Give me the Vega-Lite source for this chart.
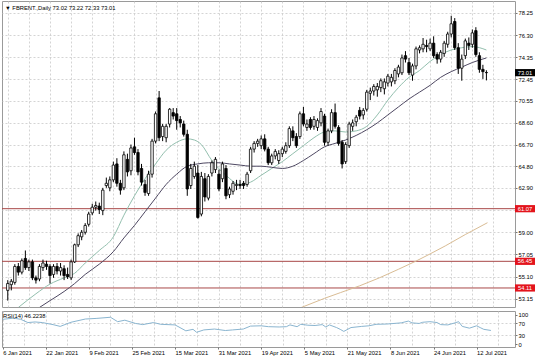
{
  "$schema": "https://vega.github.io/schema/vega-lite/v6.json",
  "padding": 0,
  "spacing": 2,
  "config": {
    "view": {"stroke": "#9a9a9a", "strokeWidth": 1},
    "axis": {"labelFont": "Liberation Sans", "labelFontSize": 5.8, "labelColor": "#000", "gridColor": "#c9c9c9", "gridDash": [2, 2], "gridWidth": 0.8, "tickColor": "#777", "domain": false, "title": null, "labelOverlap": false, "labelSeparation": 0},
    "axisY": {"labelOverlap": false},
    "axisRight": {"labelOverlap": false},
    "title": {"font": "Liberation Sans", "fontSize": 5.8, "fontWeight": "normal", "color": "#000", "anchor": "start", "frame": "group", "orient": "top"},
    "text": {"font": "Liberation Sans"}
  },
  "datasets": {
    "candles": [
      {"i":0,"o":53.9,"h":54.8,"l":53.0,"c":54.5},{"i":1,"o":54.4,"h":54.9,"l":53.9,"c":54.7},{"i":2,"o":54.6,"h":56.2,"l":54.4,"c":56.0},{"i":3,"o":56.0,"h":56.3,"l":55.2,"c":55.5},{"i":4,"o":55.5,"h":56.7,"l":55.3,"c":56.5},{"i":5,"o":56.7,"h":57.4,"l":55.7,"c":55.9},{"i":6,"o":55.9,"h":56.6,"l":55.6,"c":56.4},{"i":7,"o":56.4,"h":56.6,"l":54.8,"c":55.0},{"i":8,"o":55.0,"h":55.2,"l":54.5,"c":54.8},{"i":9,"o":54.9,"h":56.2,"l":54.7,"c":56.0},
      {"i":10,"o":55.9,"h":56.6,"l":55.6,"c":56.3},{"i":11,"o":56.2,"h":56.5,"l":55.7,"c":56.0},{"i":12,"o":56.0,"h":56.2,"l":54.5,"c":55.2},{"i":13,"o":55.3,"h":56.2,"l":55.0,"c":56.0},{"i":14,"o":56.0,"h":56.3,"l":55.3,"c":55.6},{"i":15,"o":55.6,"h":56.3,"l":55.2,"c":55.9},{"i":16,"o":55.8,"h":56.1,"l":54.8,"c":55.2},{"i":17,"o":55.3,"h":55.9,"l":54.9,"c":55.1},{"i":18,"o":55.0,"h":56.6,"l":54.8,"c":56.4},{"i":19,"o":56.4,"h":58.0,"l":56.3,"c":57.9},
      {"i":20,"o":57.9,"h":58.9,"l":57.7,"c":58.7},{"i":21,"o":58.6,"h":59.2,"l":58.3,"c":59.0},{"i":22,"o":59.0,"h":59.8,"l":58.8,"c":59.6},{"i":23,"o":59.7,"h":60.8,"l":59.5,"c":60.6},{"i":24,"o":60.7,"h":61.5,"l":60.5,"c":61.2},{"i":25,"o":61.2,"h":61.7,"l":60.9,"c":61.35},{"i":26,"o":61.3,"h":61.6,"l":60.6,"c":61.0},{"i":27,"o":60.9,"h":62.9,"l":60.5,"c":62.7},{"i":28,"o":63.1,"h":63.8,"l":62.9,"c":63.3},{"i":29,"o":62.9,"h":63.9,"l":62.6,"c":63.6},
      {"i":30,"o":63.6,"h":65.2,"l":63.4,"c":64.9},{"i":31,"o":65.0,"h":65.5,"l":63.0,"c":63.3},{"i":32,"o":63.3,"h":63.6,"l":62.3,"c":62.7},{"i":33,"o":62.9,"h":66.1,"l":62.7,"c":65.8},{"i":34,"o":65.4,"h":65.9,"l":63.9,"c":64.3},{"i":35,"o":64.4,"h":66.7,"l":64.0,"c":66.4},{"i":36,"o":66.5,"h":67.3,"l":65.8,"c":66.0},{"i":37,"o":66.0,"h":66.3,"l":64.0,"c":64.3},{"i":38,"o":64.6,"h":65.0,"l":63.1,"c":63.4},{"i":39,"o":63.2,"h":63.6,"l":62.2,"c":62.5},
      {"i":40,"o":62.4,"h":64.4,"l":62.2,"c":64.1},{"i":41,"o":64.1,"h":67.2,"l":63.8,"c":67.0},{"i":42,"o":67.0,"h":69.6,"l":66.8,"c":69.4},{"i":43,"o":70.8,"h":71.4,"l":67.0,"c":67.3},{"i":44,"o":67.4,"h":68.5,"l":67.0,"c":68.3},{"i":45,"o":67.3,"h":68.5,"l":66.9,"c":68.3},{"i":46,"o":68.5,"h":69.9,"l":68.2,"c":69.8},{"i":47,"o":69.5,"h":69.9,"l":68.9,"c":69.2},{"i":48,"o":69.4,"h":69.9,"l":68.0,"c":68.8},{"i":49,"o":68.9,"h":69.2,"l":68.2,"c":68.6},
      {"i":50,"o":68.5,"h":68.8,"l":67.4,"c":67.6},{"i":51,"o":67.6,"h":68.0,"l":62.2,"c":62.8},{"i":52,"o":63.1,"h":65.0,"l":62.8,"c":64.6},{"i":53,"o":63.9,"h":65.2,"l":63.7,"c":64.8},{"i":54,"o":64.2,"h":64.9,"l":60.2,"c":60.3},{"i":55,"o":60.6,"h":64.3,"l":60.4,"c":63.9},{"i":56,"o":63.7,"h":64.2,"l":61.7,"c":62.1},{"i":57,"o":62.0,"h":64.1,"l":61.8,"c":63.9},{"i":58,"o":64.2,"h":65.3,"l":63.9,"c":65.1},{"i":59,"o":64.5,"h":65.6,"l":64.2,"c":65.4},
      {"i":60,"o":64.1,"h":64.5,"l":62.6,"c":62.8},{"i":61,"o":63.7,"h":65.2,"l":63.4,"c":65.0},{"i":62,"o":64.6,"h":64.9,"l":61.9,"c":62.2},{"i":63,"o":62.3,"h":63.0,"l":62.0,"c":62.8},{"i":64,"o":62.6,"h":63.5,"l":62.3,"c":63.3},{"i":65,"o":63.1,"h":63.6,"l":62.7,"c":63.2},{"i":66,"o":63.2,"h":63.6,"l":62.8,"c":63.1},{"i":67,"o":63.3,"h":63.5,"l":62.8,"c":63.1},{"i":68,"o":63.2,"h":64.3,"l":63.0,"c":64.1},{"i":69,"o":64.4,"h":66.5,"l":64.2,"c":66.3},
      {"i":70,"o":66.3,"h":67.0,"l":66.0,"c":66.8},{"i":71,"o":66.8,"h":67.2,"l":66.5,"c":67.0},{"i":72,"o":66.6,"h":67.5,"l":66.3,"c":67.2},{"i":73,"o":67.2,"h":67.6,"l":66.1,"c":66.3},{"i":74,"o":66.3,"h":66.5,"l":64.9,"c":65.1},{"i":75,"o":65.1,"h":65.9,"l":64.9,"c":65.7},{"i":76,"o":65.7,"h":66.3,"l":65.4,"c":66.1},{"i":77,"o":65.3,"h":66.2,"l":65.0,"c":65.9},{"i":78,"o":65.9,"h":66.5,"l":65.6,"c":66.3},{"i":79,"o":66.1,"h":66.9,"l":65.9,"c":66.6},
      {"i":80,"o":66.6,"h":68.3,"l":66.4,"c":68.1},{"i":81,"o":67.9,"h":68.3,"l":67.0,"c":67.3},{"i":82,"o":67.4,"h":67.7,"l":66.4,"c":66.6},{"i":83,"o":67.4,"h":69.6,"l":67.2,"c":69.4},{"i":84,"o":69.4,"h":70.0,"l":68.3,"c":68.5},{"i":85,"o":68.2,"h":68.9,"l":67.9,"c":68.5},{"i":86,"o":68.9,"h":69.1,"l":68.0,"c":68.2},{"i":87,"o":68.3,"h":69.2,"l":68.0,"c":68.9},{"i":88,"o":68.2,"h":69.0,"l":67.9,"c":68.8},{"i":89,"o":68.6,"h":69.9,"l":68.3,"c":69.6},
      {"i":90,"o":69.2,"h":69.4,"l":66.6,"c":66.9},{"i":91,"o":66.9,"h":68.1,"l":66.6,"c":67.9},{"i":92,"o":67.9,"h":69.8,"l":67.7,"c":69.5},{"i":93,"o":69.5,"h":70.3,"l":68.1,"c":68.3},{"i":94,"o":68.2,"h":68.4,"l":66.6,"c":66.8},{"i":95,"o":66.9,"h":67.1,"l":64.6,"c":65.0},{"i":96,"o":65.2,"h":66.9,"l":65.0,"c":66.7},{"i":97,"o":66.6,"h":68.7,"l":66.4,"c":68.5},{"i":98,"o":68.3,"h":68.9,"l":67.9,"c":68.6},{"i":99,"o":68.7,"h":69.3,"l":68.3,"c":69.1},
      {"i":100,"o":69.7,"h":70.0,"l":68.9,"c":69.2},{"i":101,"o":69.3,"h":69.9,"l":68.9,"c":69.7},{"i":102,"o":69.8,"h":71.5,"l":69.6,"c":71.3},{"i":103,"o":71.2,"h":71.7,"l":70.6,"c":71.4},{"i":104,"o":71.4,"h":72.0,"l":71.0,"c":71.8},{"i":105,"o":71.5,"h":72.1,"l":70.9,"c":71.8},{"i":106,"o":71.7,"h":72.5,"l":71.3,"c":72.3},{"i":107,"o":71.6,"h":72.5,"l":71.1,"c":72.2},{"i":108,"o":72.1,"h":72.9,"l":71.8,"c":72.7},{"i":109,"o":72.2,"h":72.9,"l":71.8,"c":72.6},
      {"i":110,"o":72.3,"h":73.4,"l":72.0,"c":73.2},{"i":111,"o":72.9,"h":73.7,"l":72.6,"c":73.5},{"i":112,"o":73.0,"h":74.6,"l":72.8,"c":74.3},{"i":113,"o":74.5,"h":74.9,"l":73.9,"c":74.2},{"i":114,"o":73.9,"h":74.3,"l":72.8,"c":73.0},{"i":115,"o":72.8,"h":73.8,"l":72.3,"c":73.6},{"i":116,"o":73.6,"h":75.3,"l":73.3,"c":75.1},{"i":117,"o":75.0,"h":75.4,"l":74.7,"c":75.2},{"i":118,"o":75.1,"h":76.05,"l":74.8,"c":75.5},{"i":119,"o":75.4,"h":75.9,"l":74.8,"c":75.3},
      {"i":120,"o":75.1,"h":76.0,"l":74.9,"c":75.6},{"i":121,"o":75.6,"h":76.2,"l":74.3,"c":74.5},{"i":122,"o":74.6,"h":74.8,"l":73.8,"c":74.2},{"i":123,"o":74.2,"h":75.0,"l":73.9,"c":74.8},{"i":124,"o":74.7,"h":75.8,"l":74.4,"c":75.6},{"i":125,"o":75.5,"h":76.6,"l":75.2,"c":76.4},{"i":126,"o":76.4,"h":78.0,"l":76.1,"c":77.3},{"i":127,"o":77.5,"h":77.8,"l":75.0,"c":75.2},{"i":128,"o":75.2,"h":75.6,"l":72.9,"c":73.4},{"i":129,"o":73.4,"h":74.6,"l":72.3,"c":74.2},
      {"i":130,"o":74.5,"h":76.0,"l":74.2,"c":75.8},{"i":131,"o":75.6,"h":76.1,"l":75.0,"c":75.4},{"i":132,"o":75.5,"h":76.8,"l":75.2,"c":76.5},{"i":133,"o":76.7,"h":77.0,"l":74.4,"c":74.6},{"i":134,"o":74.5,"h":74.8,"l":73.0,"c":73.3},{"i":135,"o":73.3,"h":73.7,"l":72.46,"c":73.1},{"i":136,"o":73.02,"h":73.22,"l":72.33,"c":73.01}
    ],
    "ma": [
      {"i":3,"v":52.4,"s":"fast"},{"i":8,"v":53.6,"s":"fast"},{"i":12,"v":54.45,"s":"fast"},{"i":16,"v":55.0,"s":"fast"},{"i":19,"v":55.4,"s":"fast"},{"i":22,"v":56.3,"s":"fast"},{"i":26,"v":57.4,"s":"fast"},{"i":30,"v":58.6,"s":"fast"},{"i":33,"v":60.5,"s":"fast"},{"i":36,"v":62.2,"s":"fast"},{"i":39,"v":63.7,"s":"fast"},{"i":42,"v":65.0,"s":"fast"},{"i":45,"v":66.2,"s":"fast"},{"i":48,"v":66.9,"s":"fast"},{"i":51,"v":67.2,"s":"fast"},{"i":53,"v":67.1,"s":"fast"},{"i":55,"v":66.7,"s":"fast"},{"i":58,"v":65.3,"s":"fast"},{"i":62,"v":64.0,"s":"fast"},{"i":66,"v":63.2,"s":"fast"},{"i":69,"v":63.4,"s":"fast"},{"i":72,"v":64.0,"s":"fast"},{"i":75,"v":64.6,"s":"fast"},{"i":78,"v":65.2,"s":"fast"},{"i":81,"v":65.9,"s":"fast"},{"i":84,"v":66.6,"s":"fast"},{"i":87,"v":67.3,"s":"fast"},{"i":90,"v":67.8,"s":"fast"},{"i":93,"v":67.9,"s":"fast"},{"i":96,"v":67.8,"s":"fast"},{"i":99,"v":67.9,"s":"fast"},{"i":102,"v":68.3,"s":"fast"},{"i":105,"v":69.3,"s":"fast"},{"i":108,"v":70.6,"s":"fast"},{"i":111,"v":71.7,"s":"fast"},{"i":114,"v":72.6,"s":"fast"},{"i":117,"v":73.2,"s":"fast"},{"i":120,"v":74.0,"s":"fast"},{"i":123,"v":74.6,"s":"fast"},{"i":126,"v":75.0,"s":"fast"},{"i":129,"v":75.2,"s":"fast"},{"i":132,"v":75.3,"s":"fast"},{"i":136,"v":75.0,"s":"fast"},
      {"i":9,"v":52.4,"s":"slow"},{"i":12,"v":53.0,"s":"slow"},{"i":16,"v":53.8,"s":"slow"},{"i":19,"v":54.5,"s":"slow"},{"i":22,"v":55.3,"s":"slow"},{"i":26,"v":56.2,"s":"slow"},{"i":30,"v":57.3,"s":"slow"},{"i":33,"v":58.5,"s":"slow"},{"i":36,"v":59.6,"s":"slow"},{"i":39,"v":60.8,"s":"slow"},{"i":42,"v":62.0,"s":"slow"},{"i":45,"v":63.2,"s":"slow"},{"i":48,"v":64.1,"s":"slow"},{"i":51,"v":64.8,"s":"slow"},{"i":54,"v":65.0,"s":"slow"},{"i":57,"v":65.1,"s":"slow"},{"i":60,"v":65.1,"s":"slow"},{"i":63,"v":65.0,"s":"slow"},{"i":66,"v":64.9,"s":"slow"},{"i":69,"v":64.8,"s":"slow"},{"i":72,"v":64.8,"s":"slow"},{"i":75,"v":64.7,"s":"slow"},{"i":78,"v":64.6,"s":"slow"},{"i":81,"v":64.8,"s":"slow"},{"i":84,"v":65.3,"s":"slow"},{"i":87,"v":65.9,"s":"slow"},{"i":90,"v":66.5,"s":"slow"},{"i":93,"v":66.8,"s":"slow"},{"i":96,"v":67.1,"s":"slow"},{"i":99,"v":67.5,"s":"slow"},{"i":102,"v":68.0,"s":"slow"},{"i":105,"v":68.6,"s":"slow"},{"i":108,"v":69.3,"s":"slow"},{"i":111,"v":70.0,"s":"slow"},{"i":114,"v":70.7,"s":"slow"},{"i":117,"v":71.3,"s":"slow"},{"i":120,"v":71.9,"s":"slow"},{"i":123,"v":72.6,"s":"slow"},{"i":126,"v":73.1,"s":"slow"},{"i":129,"v":73.5,"s":"slow"},{"i":132,"v":73.9,"s":"slow"},{"i":136,"v":74.3,"s":"slow"}
    ],
    "ma200": [
      {"i":83,"v":52.35},{"i":90,"v":53.2},{"i":94.5,"v":53.7},{"i":100,"v":54.3},{"i":105.6,"v":55.0},{"i":111,"v":55.75},{"i":116,"v":56.47},{"i":120,"v":57.1},{"i":124.3,"v":57.8},{"i":130,"v":58.8},{"i":136.3,"v":59.84}
    ],
    "levels": [
      {"v":61.07,"k":"red","t":"61.07"},{"v":56.45,"k":"red","t":"56.45"},{"v":54.11,"k":"red","t":"54.11"},{"v":73.01,"k":"bid","t":"73.01"}
    ],
    "rsi": [
      {"i":0,"r":84},{"i":3,"r":88},{"i":5,"r":84},{"i":7,"r":73},{"i":9,"r":75},{"i":11,"r":73},{"i":14,"r":66},{"i":16,"r":60},{"i":19,"r":74},{"i":23,"r":85},{"i":26,"r":87},{"i":30,"r":91},{"i":32,"r":76},{"i":34,"r":81},{"i":37,"r":70},{"i":39,"r":66},{"i":42,"r":73},{"i":44,"r":67},{"i":48,"r":65},{"i":51,"r":45},{"i":53,"r":50},{"i":54,"r":40},{"i":56,"r":48},{"i":59,"r":51},{"i":62,"r":46},{"i":64,"r":48},{"i":67,"r":51},{"i":69,"r":61},{"i":72,"r":62},{"i":74,"r":59},{"i":77,"r":58},{"i":79,"r":59},{"i":80,"r":65},{"i":82,"r":59},{"i":83,"r":67},{"i":85,"r":64},{"i":87,"r":63},{"i":89,"r":66},{"i":90,"r":58},{"i":91,"r":65},{"i":93,"r":56},{"i":94,"r":50},{"i":95,"r":43},{"i":97,"r":56},{"i":100,"r":60},{"i":102,"r":62},{"i":104,"r":67},{"i":107,"r":68},{"i":109,"r":70},{"i":111,"r":72},{"i":113,"r":78},{"i":114,"r":72},{"i":116,"r":70},{"i":117,"r":74},{"i":119,"r":76},{"i":121,"r":73},{"i":122,"r":66},{"i":124,"r":65},{"i":126,"r":72},{"i":127,"r":76},{"i":128,"r":60},{"i":130,"r":54},{"i":132,"r":62},{"i":133,"r":56},{"i":134,"r":50},{"i":136,"r":46.2}
    ]
  },
  "vconcat": [
    {
      "width": 513,
      "height": 306,
      "title": {"text": "▼ FBRENT.,Daily  73.02 73.22 72.33 73.01", "offset": -10, "dx": 3},
      "encoding": {
        "x": {"field": "i", "type": "quantitative", "title": null, "scale": {"domain": [-0.22, 142.7], "nice": false, "zero": false},
          "axis": {"values": [0,6,12,18,24,30,36,42,48,54,60,66,72,78,84,90,96,102,108,114,120,126,132,138], "grid": true, "labels": false, "ticks": false, "title": null}},
        "y": {"field": "v", "type": "quantitative", "title": null, "scale": {"domain": [52.44, 79.3], "nice": false, "zero": false},
          "axis": {"orient": "right", "values": [53.15, 55.1, 57.05, 59.0, 60.95, 62.9, 64.8, 66.7, 68.6, 70.55, 72.45, 74.35, 76.3, 78.25], "labelExpr": "datum.value === 60.95 ? '' : format(datum.value, '.2f')", "grid": true, "tickSize": 2, "labelPadding": 1, "labelOverlap": false, "labelSeparation": 0, "title": null}}
      },
      "layer": [
        {
          "data": {"name": "levels"},
          "transform": [{"filter": "datum.k === 'red'"}],
          "mark": {"type": "rule", "color": "#a84848", "strokeWidth": 1},
          "encoding": {"x": null}
        },
        {
          "data": {"values": [{}]},
          "mark": {"type": "rule", "color": "#7d7d7d", "strokeWidth": 3, "clip": false},
          "encoding": {
            "x": null,
            "y": {"datum": 52.44, "type": "quantitative", "title": null, "scale": {"domain": [52.44, 79.3], "nice": false, "zero": false},
              "axis": {"orient": "right", "values": [53.15, 55.1, 57.05, 59.0, 60.95, 62.9, 64.8, 66.7, 68.6, 70.55, 72.45, 74.35, 76.3, 78.25], "labelExpr": "datum.value === 60.95 ? '' : format(datum.value, '.2f')", "grid": true, "tickSize": 2, "labelPadding": 1, "labelOverlap": false, "labelSeparation": 0, "title": null}}
          }
        },
        {
          "data": {"name": "ma200"},
          "mark": {"type": "line", "color": "#d9bc94", "strokeWidth": 1, "clip": true}
        },
        {
          "data": {"name": "ma"},
          "mark": {"type": "line", "strokeWidth": 1, "clip": true, "interpolate": "monotone"},
          "encoding": {
            "color": {"field": "s", "type": "nominal", "legend": null, "scale": {"domain": ["fast", "slow"], "range": ["#93bfae", "#4e4862"]}}
          }
        },
        {
          "data": {"name": "candles"},
          "mark": {"type": "rule", "color": "#000", "strokeWidth": 1},
          "encoding": {
            "y": {"field": "l", "type": "quantitative", "title": null, "scale": {"domain": [52.44, 79.3], "nice": false, "zero": false},
              "axis": {"orient": "right", "values": [53.15, 55.1, 57.05, 59.0, 60.95, 62.9, 64.8, 66.7, 68.6, 70.55, 72.45, 74.35, 76.3, 78.25], "labelExpr": "datum.value === 60.95 ? '' : format(datum.value, '.2f')", "grid": true, "tickSize": 2, "labelPadding": 1, "labelOverlap": false, "labelSeparation": 0, "title": null}},
            "y2": {"field": "h"}
          }
        },
        {
          "data": {"name": "candles"},
          "mark": {"type": "bar", "size": 2.4, "stroke": "#000", "strokeWidth": 0.8},
          "encoding": {
            "y": {"field": "o", "type": "quantitative", "title": null, "scale": {"domain": [52.44, 79.3], "nice": false, "zero": false},
              "axis": {"orient": "right", "values": [53.15, 55.1, 57.05, 59.0, 60.95, 62.9, 64.8, 66.7, 68.6, 70.55, 72.45, 74.35, 76.3, 78.25], "labelExpr": "datum.value === 60.95 ? '' : format(datum.value, '.2f')", "grid": true, "tickSize": 2, "labelPadding": 1, "labelOverlap": false, "labelSeparation": 0, "title": null}},
            "y2": {"field": "c"},
            "fill": {"condition": {"test": "datum.c >= datum.o", "value": "#ffffff"}, "value": "#000000"}
          }
        },
        {
          "data": {"name": "levels"},
          "mark": {"type": "point", "shape": "M0,-0.36L2,-0.36L2,0.36L0,0.36Z", "size": 400, "filled": true, "opacity": 1, "clip": false, "strokeWidth": 0},
          "encoding": {
            "x": {"value": "width"},
            "fill": {"condition": {"test": "datum.k === 'red'", "value": "#e3141c"}, "value": "#000000"}
          }
        },
        {
          "data": {"name": "levels"},
          "mark": {"type": "text", "color": "#ffffff", "fontSize": 5.8, "align": "center", "baseline": "middle", "clip": false, "dx": 10},
          "encoding": {
            "x": {"value": "width"},
            "text": {"field": "t"}
          }
        }
      ]
    },
    {
      "width": 513,
      "height": 36,
      "title": {"text": "RSI(14) 46.2238", "offset": -7.5, "dx": 1},
      "encoding": {
        "x": {"field": "i", "type": "quantitative", "title": null, "scale": {"domain": [-0.22, 142.7], "nice": false, "zero": false},
          "axis": {"values": [0,6,12,18,24,30,36,42,48,54,60,66,72,78,84,90,96,102,108,114,120,126,132,138], "grid": true, "title": null, "labelAlign": "left", "labelFlush": false, "labelOverlap": false, "labelPadding": 0, "tickSize": 2,
            "tickOpacity": {"condition": {"test": "datum.value % 12 === 0", "value": 1}, "value": 0},
            "labelExpr": "datum.value % 12 === 0 ? ['6 Jan 2021','22 Jan 2021','9 Feb 2021','25 Feb 2021','15 Mar 2021','31 Mar 2021','19 Apr 2021','5 May 2021','21 May 2021','8 Jun 2021','24 Jun 2021','12 Jul 2021'][datum.value / 12] : ''"}},
        "y": {"field": "r", "type": "quantitative", "title": null, "scale": {"domain": [-9.9, 112.2], "nice": false, "zero": false},
          "axis": {"orient": "right", "values": [0, 30, 70, 100], "grid": true, "tickSize": 2, "labelPadding": 1, "labelOverlap": false, "labelSeparation": 0, "title": null,
            "gridOpacity": {"condition": {"test": "datum.value === 30 || datum.value === 70", "value": 1}, "value": 0}}}
      },
      "layer": [
        {
          "data": {"name": "rsi"},
          "mark": {"type": "line", "color": "#8ab5d0", "strokeWidth": 1}
        }
      ]
    }
  ]
}
